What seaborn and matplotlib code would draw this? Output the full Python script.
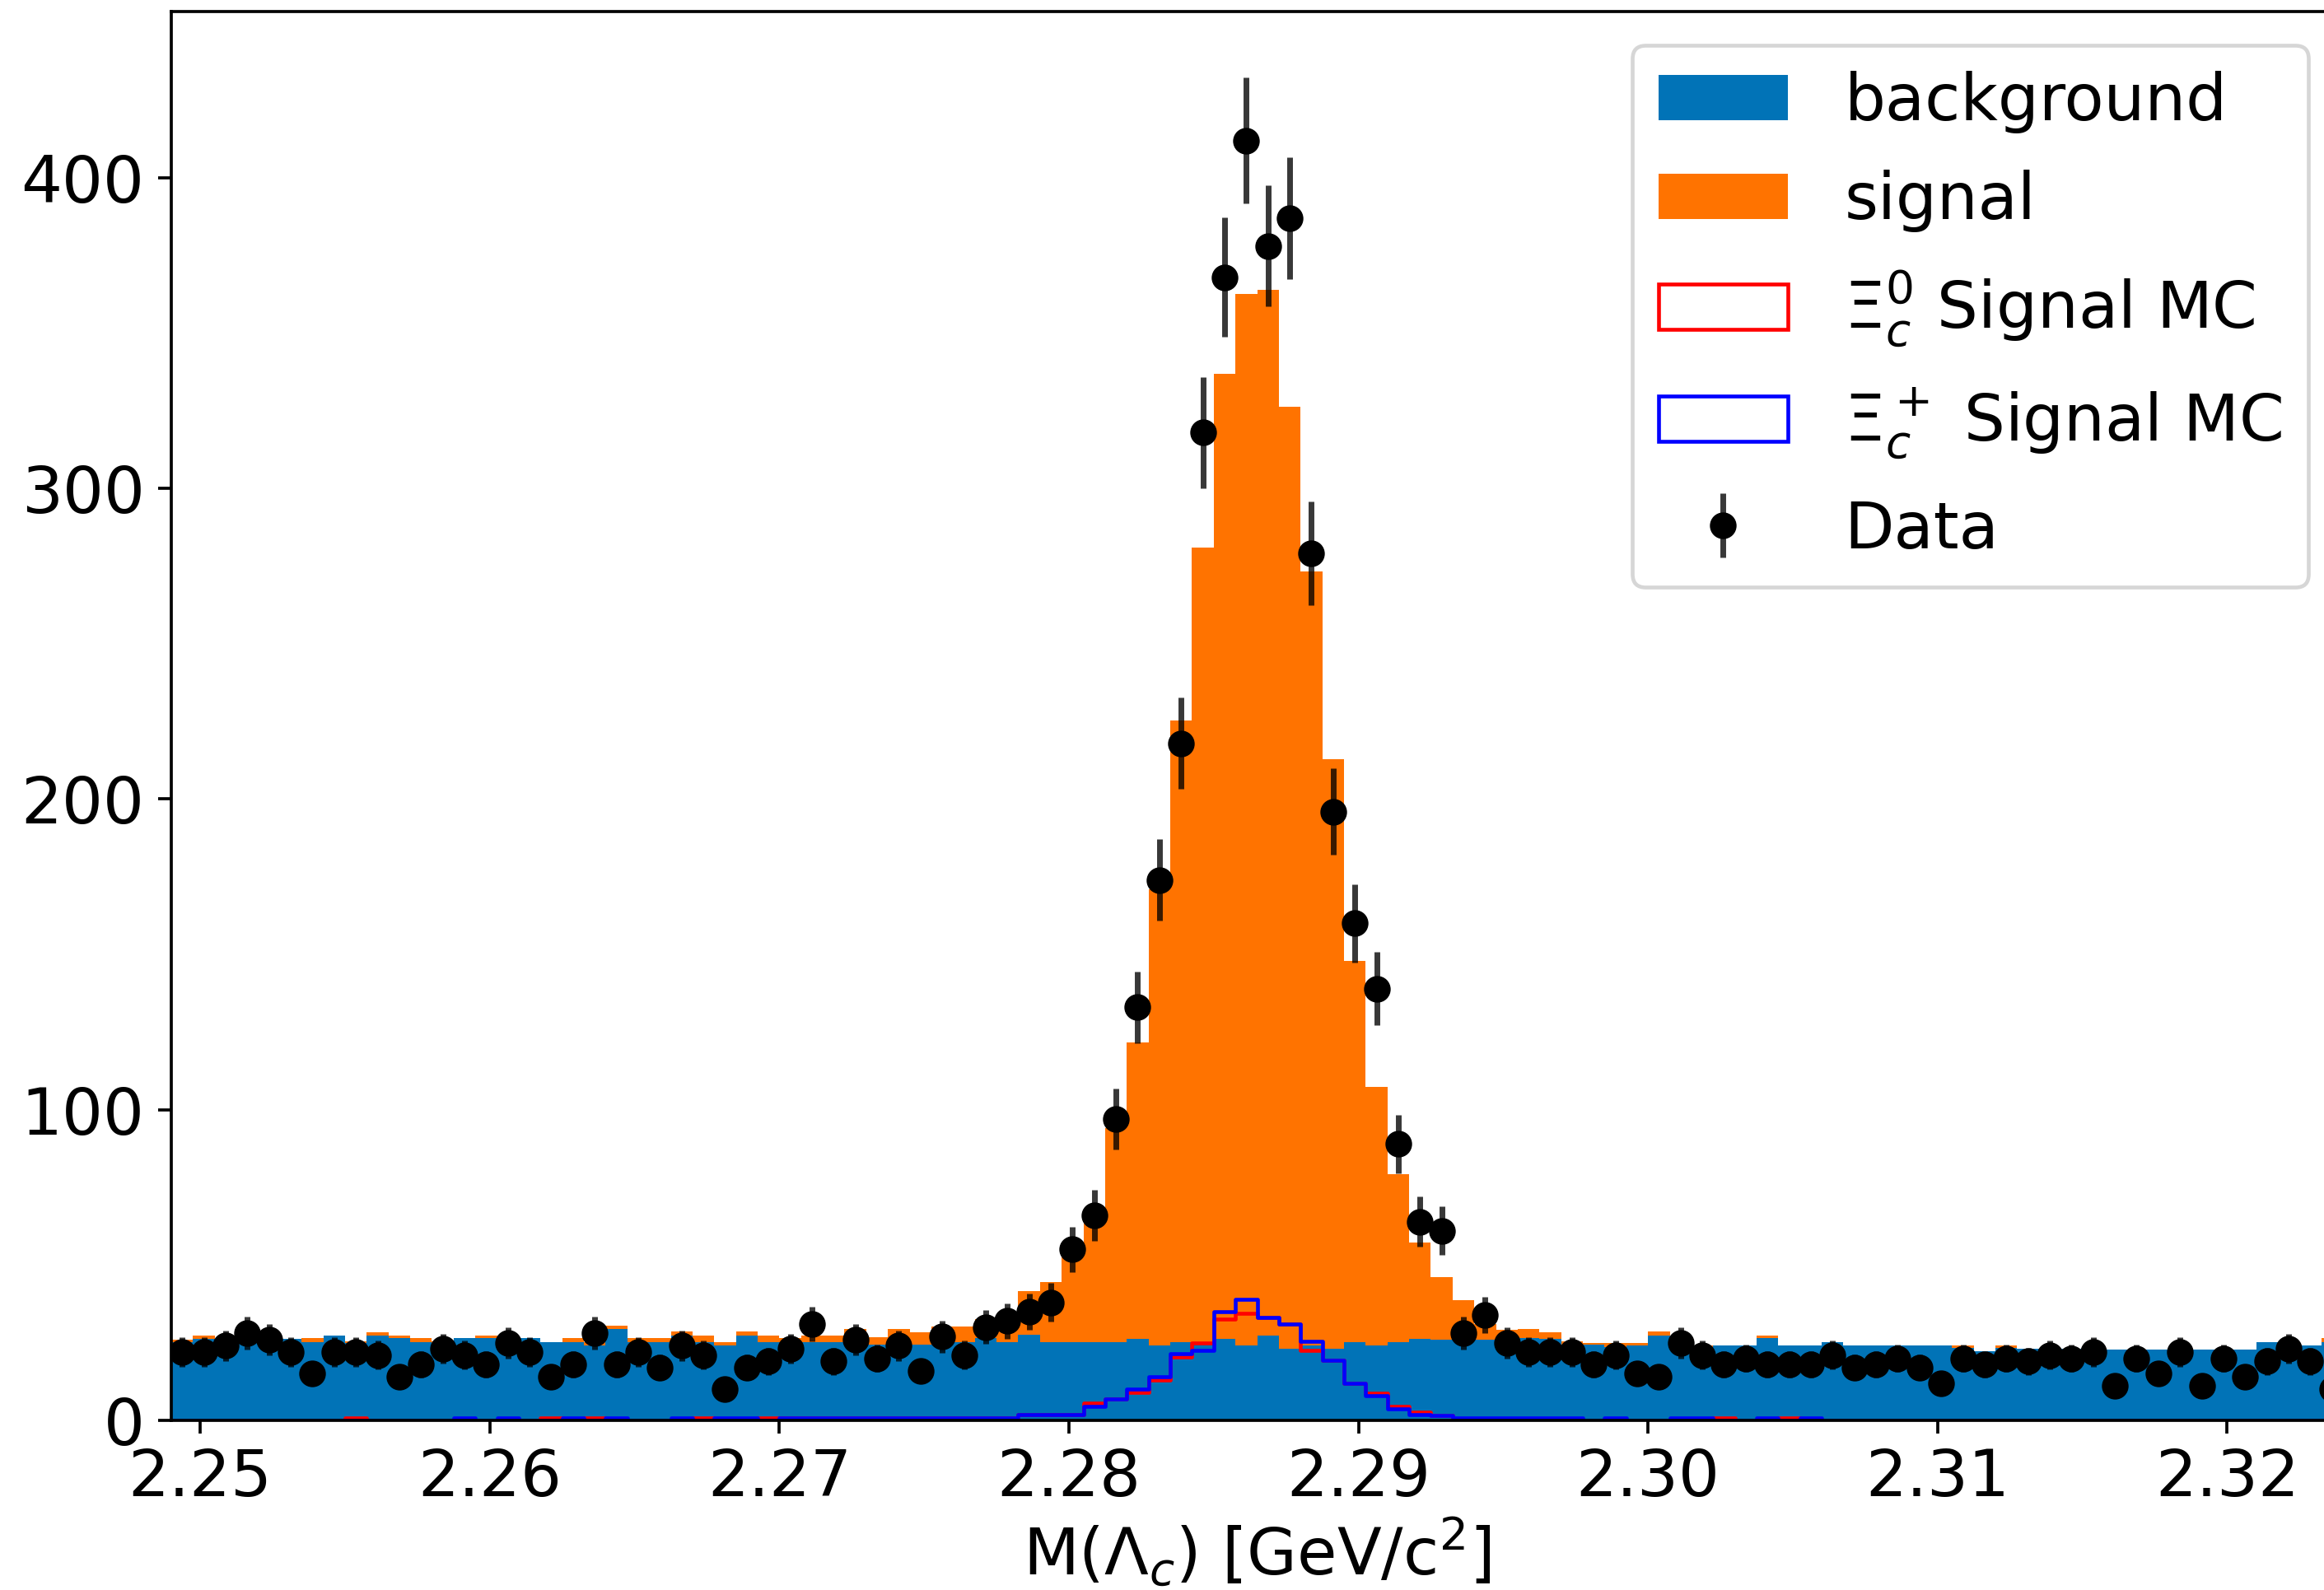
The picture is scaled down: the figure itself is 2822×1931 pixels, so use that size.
import numpy as np
import pandas as pd
import matplotlib
matplotlib.use("Agg")
import matplotlib.pyplot as plt
from matplotlib.patches import Patch
import seaborn as sns

# ---------------- data ----------------
x_range = (2.249, 2.324)
n_bins = 100                                      # bins of 0.00075 GeV
edges = np.linspace(x_range[0], x_range[1], n_bins + 1)
centers = 0.5 * (edges[:-1] + edges[1:])

data_counts = [22, 22, 24, 28, 26, 22, 15, 22, 22, 21,
               14, 18, 23, 21, 18, 25, 22, 14, 18, 28,
               18, 22, 17, 24, 21, 10, 17, 19, 23, 31,
               19, 26, 20, 24, 16, 27, 21, 30, 32, 35,
               38, 55, 66, 97, 133, 174, 218, 318, 368, 412,
               378, 387, 279, 196, 160, 139, 89, 64, 61, 28,
               34, 25, 22, 22, 22, 18, 21, 15, 14, 25,
               21, 18, 20, 18, 18, 18, 21, 17, 18, 20,
               17, 12, 20, 18, 20, 19, 21, 20, 22, 11,
               20, 15, 22, 11, 20, 14, 19, 23, 19, 10]

background = [25.2, 26.2, 26.2, 26.2, 26.2, 26.2, 25.3, 27.4, 25.0, 27.3,
              26.4, 25.3, 25.0, 26.4, 26.4, 26.4, 26.4, 25.2, 25.3, 24.2,
              29.5, 25.3, 25.3, 27.4, 25.3, 24.2, 27.3, 25.3, 25.3, 25.3,
              25.3, 25.3, 24.5, 24.5, 24.5, 25.3, 25.3, 26.5, 25.3, 27.5,
              25.3, 25.3, 25.3, 25.3, 26.2, 24.2, 25.2, 25.3, 26.2, 24.2,
              27.3, 23.1, 24.2, 23.1, 25.2, 24.2, 25.2, 26.2, 26.1, 26.1,
              26.1, 25.0, 26.4, 26.3, 24.5, 24.3, 23.5, 24.0, 27.3, 24.2,
              23.3, 24.2, 24.2, 26.4, 24.2, 24.2, 25.3, 24.2, 24.2, 24.2,
              24.2, 24.2, 23.3, 22.3, 23.3, 23.0, 23.0, 23.0, 22.7, 22.7,
              22.7, 22.7, 22.7, 22.7, 22.7, 22.7, 25.3, 24.2, 24.2, 25.3]

signal = [0.9, 1.1, 0.0, 0.0, 0.0, 0.0, 1.1, 0.0, 0.4, 1.1,
          1.0, 1.1, 0.5, 0.0, 0.9, 0.0, 0.0, 0.0, 1.1, 1.0,
          0.9, 1.1, 1.1, 1.2, 2.0, 1.0, 1.3, 2.0, 1.1, 2.0,
          2.0, 4.0, 2.2, 4.8, 3.8, 5.0, 5.0, 6.0, 7.0, 14.0,
          19.3, 27.7, 38.2, 68.7, 95.4, 146.8, 200.0, 255.7, 310.8, 338.3,
          336.7, 303.2, 249.0, 189.7, 122.7, 83.1, 54.0, 31.0, 19.9, 12.6,
          5.0, 4.1, 3.0, 2.1, 1.0, 0.5, 1.3, 1.0, 1.2, 0.3,
          0.9, 0.0, 0.0, 0.9, 0.0, 0.0, 0.0, 0.0, 0.0, 0.0,
          0.0, 0.0, 0.9, 0.0, 0.9, 0.0, 0.0, 0.0, 0.0, 0.0,
          0.0, 0.0, 0.0, 0.0, 0.0, 0.0, 0.0, 0.0, 0.0, 1.1]

xic0_mc = [0, 0, 0, 0, 0, 0, 0, 0, 0.8, 0,
           0, 0, 0, 0, 0, 0, 0, 0.8, 0, 0.8,
           0, 0, 0, 0, 0.8, 0, 0, 0.8, 0.8, 0.8,
           0.8, 0.8, 0.8, 0.8, 0.8, 0.8, 0.8, 0.8, 0.8, 1.8,
           1.8, 1.8, 5.5, 6.8, 9.0, 13.0, 20.3, 25.0, 32.5, 34.5,
           33.0, 31.0, 22.5, 19.4, 12.0, 8.8, 4.5, 2.6, 1.5, 0,
           0, 0, 0, 0, 0, 0, 0, 0, 0, 0,
           0, 0.8, 0, 0, 0.8, 0, 0, 0, 0, 0,
           0, 0, 0, 0, 0, 0, 0, 0, 0, 0,
           0, 0, 0, 0, 0, 0, 0, 0, 0, 0]

xicp_mc = [0, 0, 0, 0, 0, 0, 0, 0, 0, 0,
           0, 0, 0, 0.8, 0, 0.8, 0, 0, 0.8, 0,
           0.8, 0, 0, 0.8, 0, 0.8, 0.8, 0, 0.8, 0.8,
           0.8, 0.8, 0.8, 0.8, 0.8, 0.8, 0.8, 0.8, 0.8, 1.8,
           1.8, 1.8, 4.5, 6.8, 10.2, 14.0, 21.6, 22.5, 35.0, 39.0,
           33.0, 31.0, 25.5, 19.4, 12.0, 8.0, 3.6, 1.8, 1.5, 0.8,
           0.8, 0.8, 0.8, 0.8, 0.8, 0, 0.8, 0, 0, 0.8,
           0.8, 0, 0, 0.8, 0, 0.8, 0, 0, 0, 0,
           0, 0, 0, 0, 0, 0, 0, 0, 0, 0,
           0, 0, 0, 0, 0, 0, 0, 0, 0, 0]

labels = ["background", "signal", r"$\Xi_c^0$ Signal MC",
          r"$\Xi_c^+$ Signal MC", "Data"]
xticks = [2.25, 2.26, 2.27, 2.28, 2.29, 2.30, 2.31, 2.32]
yticks = [0, 100, 200, 300, 400]

# ---------------- style ----------------
C_BKG = "#0173B7"
C_SIG = "#FF7300"
DPI = 333
plt.rcParams["font.family"] = ["DejaVu Sans"]
plt.rcParams["font.size"] = 17

fig = plt.figure(figsize=(2823 / DPI, 1931 / DPI), dpi=DPI)
ax = fig.add_axes([208 / 2823, 206 / 1931, (2845 - 208) / 2823, (1725 - 14) / 1931])

stack_df = pd.DataFrame({
    "x": np.concatenate([centers, centers]),
    "w": np.concatenate([signal, background]),
    "comp": ["signal"] * len(centers) + ["background"] * len(centers),
})
sns.histplot(data=stack_df, x="x", weights="w", hue="comp",
             hue_order=["signal", "background"], multiple="stack",
             bins=n_bins, binrange=x_range, element="step", fill=True,
             alpha=1, linewidth=0,
             palette={"signal": C_SIG, "background": C_BKG},
             legend=False, ax=ax)

sns.histplot(x=centers, weights=xic0_mc, bins=n_bins, binrange=x_range,
             element="step", fill=False, color="red", linewidth=1.0, ax=ax)
sns.histplot(x=centers, weights=xicp_mc, bins=n_bins, binrange=x_range,
             element="step", fill=False, color="blue", linewidth=1.0, ax=ax)

data_arr = np.asarray(data_counts, dtype=float)
eb = ax.errorbar(centers, data_arr, yerr=np.sqrt(data_arr), fmt="o",
                 color="k", ecolor=(0, 0, 0, 0.78), markersize=6,
                 elinewidth=1.5, zorder=5)

ax.set_xlim(*x_range)
ax.set_ylim(0, 453.5)
ax.set_xticks(xticks)
ax.set_xticklabels([f"{t:.2f}" for t in xticks])
ax.set_yticks(yticks)
ax.set_xlabel(r"M($\Lambda_c$) [GeV/c$^2$]", labelpad=1.5)
ax.set_ylabel("")
for s in ax.spines.values():
    s.set_linewidth(0.8)

handles = [Patch(facecolor=C_BKG, edgecolor="none"),
           Patch(facecolor=C_SIG, edgecolor="none"),
           Patch(facecolor="none", edgecolor="red", linewidth=1.0),
           Patch(facecolor="none", edgecolor="blue", linewidth=1.0),
           eb]
fig.legend(handles, labels, loc="upper right",
           bbox_to_anchor=(2803 / 2823, 1 - 55 / 1931),
           bbox_transform=fig.transFigure, borderaxespad=0,
           handlelength=2.0, handleheight=0.7, handletextpad=0.87,
           labelspacing=0.56, borderpad=0.4, fontsize=17)

fig.savefig("out.png", dpi=DPI)
